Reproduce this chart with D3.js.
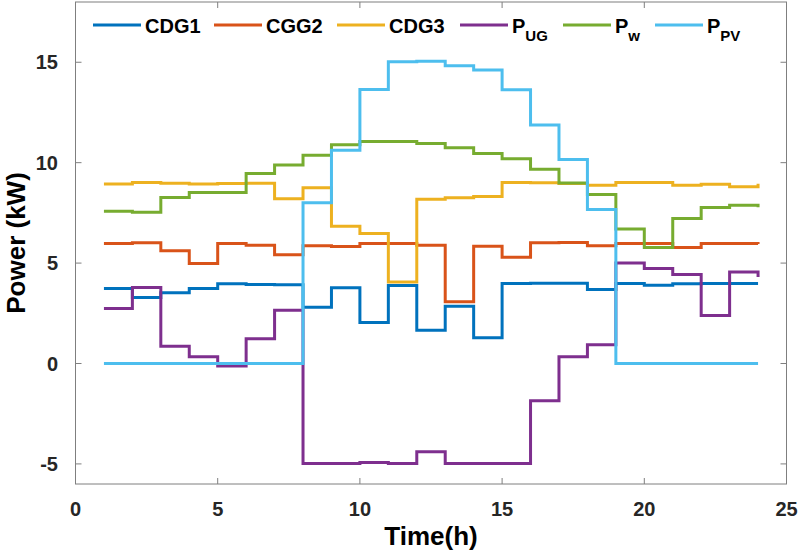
<!DOCTYPE html>
<html>
<head>
<meta charset="utf-8">
<script src="https://cdn.jsdelivr.net/npm/d3@7"></script>
<style>
  body { margin: 0; background: #fff; }
  svg text { font-family: "Liberation Sans", Arial, sans-serif; font-weight: bold; }
</style>
</head>
<body>
<svg width="799" height="554"></svg>
<script>
// hours 1..24
var hours = d3.range(1, 25);

var cdg1 = [3.73, 3.29, 3.52, 3.73, 3.97, 3.93, 3.92, 2.8, 3.77, 2.04, 3.88, 1.66,
            2.85, 1.28, 3.98, 4.0, 4.0, 3.68, 3.98, 3.9, 3.97, 3.98, 3.98, 3.98];
var cgg2 = [5.98, 6.01, 5.61, 4.98, 5.98, 5.89, 5.41, 5.86, 5.83, 5.98, 5.98, 5.89,
            3.07, 5.84, 5.29, 6.01, 6.02, 5.86, 5.98, 5.98, 5.78, 5.98, 5.97, 5.95];
var cdg3 = [8.94, 9.01, 8.98, 8.94, 8.96, 8.98, 8.2, 8.75, 6.84, 6.47, 4.06, 8.18,
            8.25, 8.32, 9.01, 9.0, 8.96, 8.88, 9.01, 9.01, 8.88, 8.93, 8.8, 8.95];
var pug  = [2.74, 3.78, 0.86, 0.33, -0.12, 1.23, 2.65, -4.98, -4.98, -4.93, -4.98, -4.4,
            -4.98, -4.98, -4.98, -1.86, 0.33, 0.93, 5.01, 4.73, 4.43, 2.39, 4.56, 4.31];
var pw   = [7.58, 7.53, 8.27, 8.52, 8.52, 9.46, 9.88, 10.37, 10.89, 11.05, 11.05, 10.95,
            10.74, 10.46, 10.19, 9.67, 8.99, 8.41, 6.7, 5.78, 7.22, 7.77, 7.88, 7.78];
var ppv  = [0, 0, 0, 0, 0, 0, 0, 8.0, 10.62, 13.64, 15.03, 15.05,
            14.82, 14.62, 13.63, 11.87, 10.16, 7.67, 0, 0, 0, 0, 0, 0];

var xTicks = [0, 5, 10, 15, 20, 25];
var yTicks = [-5, 0, 5, 10, 15];

var series = [
  { name: 'CDG1', sub: '', values: cdg1, color: '#0072BD' },
  { name: 'CGG2', sub: '', values: cgg2, color: '#D95319' },
  { name: 'CDG3', sub: '', values: cdg3, color: '#EDB120' },
  { name: 'P', sub: 'UG', values: pug, color: '#7E2F8E' },
  { name: 'P', sub: 'w', values: pw, color: '#77AC30' },
  { name: 'P', sub: 'PV', values: ppv, color: '#4DBEEE' }
];

var pLeft = 75.5, pRight = 786.5, pTop = 2, pBottom = 484;

var x = d3.scaleLinear().domain([0, 25]).range([pLeft, pRight]);
var y = d3.scaleLinear().domain([-6, 18]).range([pBottom, pTop]);

var svg = d3.select('svg');

// ticks inside, on all four sides
var tickLen = 6;
var axisColor = '#7f7f7f';
var g = svg.append('g');

g.selectAll('.xt').data(xTicks).enter().append('line')
  .attr('x1', function(d) { return x(d); }).attr('x2', function(d) { return x(d); })
  .attr('y1', pBottom).attr('y2', pBottom - tickLen)
  .attr('stroke', axisColor);
g.selectAll('.xtt').data(xTicks).enter().append('line')
  .attr('x1', function(d) { return x(d); }).attr('x2', function(d) { return x(d); })
  .attr('y1', pTop).attr('y2', pTop + tickLen)
  .attr('stroke', axisColor);
g.selectAll('.yt').data(yTicks).enter().append('line')
  .attr('x1', pLeft).attr('x2', pLeft + tickLen)
  .attr('y1', function(d) { return y(d); }).attr('y2', function(d) { return y(d); })
  .attr('stroke', axisColor);
g.selectAll('.ytr').data(yTicks).enter().append('line')
  .attr('x1', pRight).attr('x2', pRight - tickLen)
  .attr('y1', function(d) { return y(d); }).attr('y2', function(d) { return y(d); })
  .attr('stroke', axisColor);

svg.append('rect')
  .attr('x', pLeft).attr('y', pTop)
  .attr('width', pRight - pLeft).attr('height', pBottom - pTop)
  .attr('fill', 'none').attr('stroke', axisColor).attr('stroke-width', 1);

// tick labels
svg.selectAll('.xl').data(xTicks).enter().append('text')
  .attr('x', function(d) { return x(d); })
  .attr('y', 516)
  .attr('text-anchor', 'middle')
  .attr('font-size', 20)
  .attr('fill', '#262626')
  .text(function(d) { return d; });

svg.selectAll('.yl').data(yTicks).enter().append('text')
  .attr('x', 58)
  .attr('y', function(d) { return y(d) + 7; })
  .attr('text-anchor', 'end')
  .attr('font-size', 20)
  .attr('fill', '#262626')
  .text(function(d) { return d; });

// axis titles
svg.append('text')
  .attr('x', (pLeft + pRight) / 2).attr('y', 545)
  .attr('text-anchor', 'middle')
  .attr('font-size', 26)
  .attr('fill', '#000')
  .text('Time(h)');

svg.append('text')
  .attr('transform', 'translate(25,' + ((pTop + pBottom) / 2) + ') rotate(-90)')
  .attr('text-anchor', 'middle')
  .attr('font-size', 26)
  .attr('fill', '#000')
  .text('Power (kW)');

// step lines
var line = d3.line()
  .x(function(d, i) { return x(hours[i]); })
  .y(function(d) { return y(d); })
  .curve(d3.curveStepAfter);

svg.selectAll('.series').data(series).enter().append('path')
  .attr('d', function(d) { return line(d.values); })
  .attr('fill', 'none')
  .attr('stroke', function(d) { return d.color; })
  .attr('stroke-width', 3);

// legend
var legX = [93, 214, 337, 460, 563, 655];
var leg = svg.selectAll('.leg').data(series).enter().append('g')
  .attr('transform', function(d, i) { return 'translate(' + legX[i] + ',25)'; });
leg.append('line')
  .attr('x1', 0).attr('x2', 48)
  .attr('stroke', function(d) { return d.color; })
  .attr('stroke-width', 3);
var lt = leg.append('text')
  .attr('x', 52).attr('y', 7.5)
  .attr('font-size', 20)
  .attr('fill', '#000');
lt.append('tspan').text(function(d) { return d.name; });
lt.append('tspan')
  .attr('dy', 8)
  .attr('font-size', 15)
  .text(function(d) { return d.sub; });
</script>
</body>
</html>
